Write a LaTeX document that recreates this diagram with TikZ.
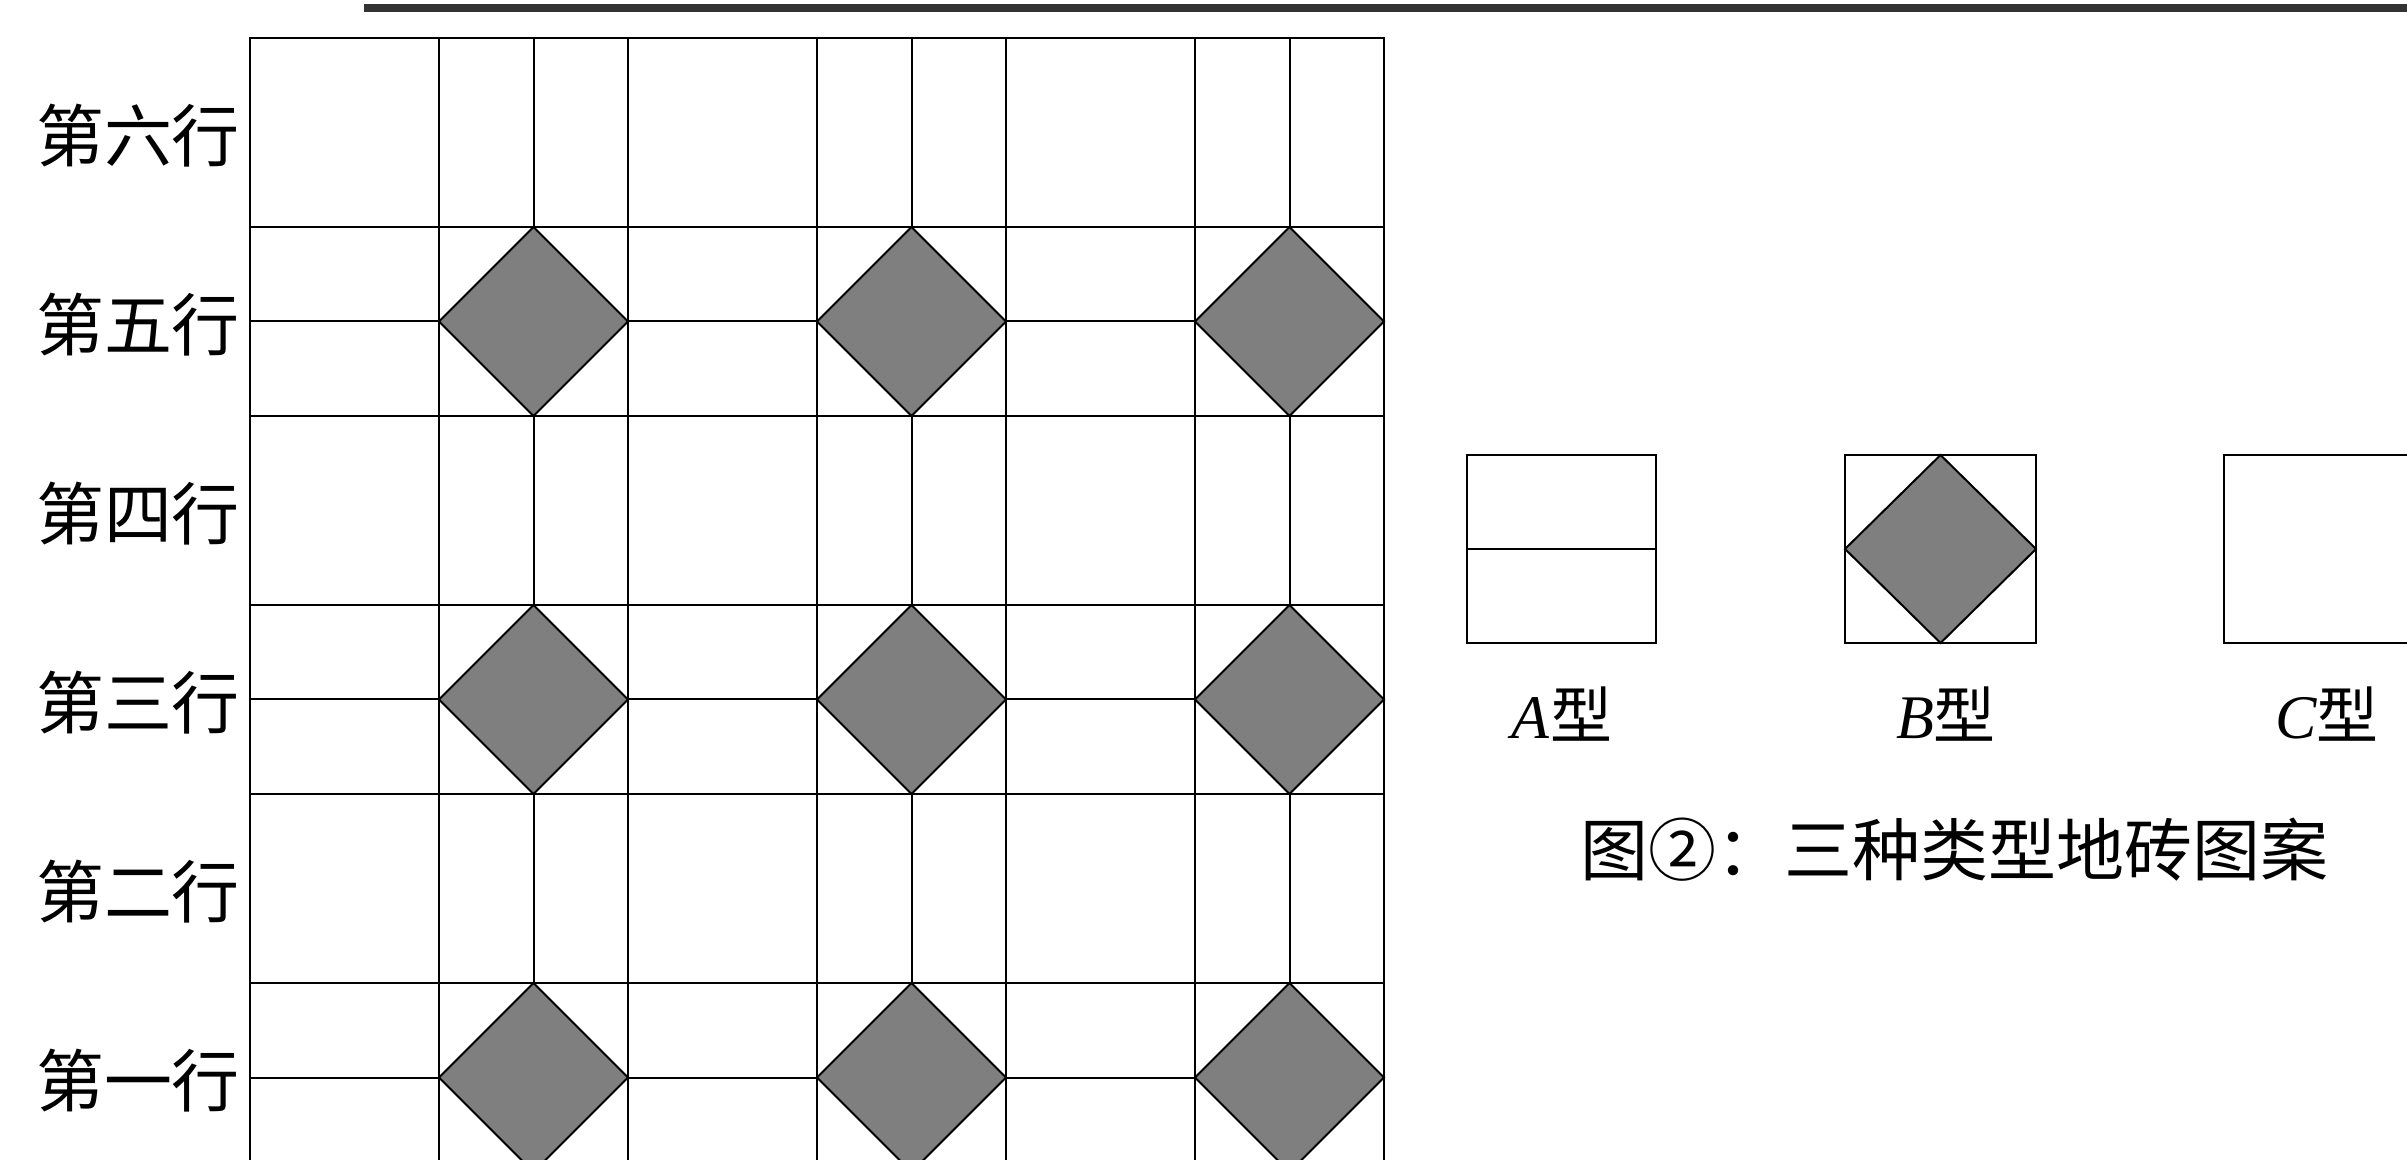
\documentclass[tikz,border=0pt]{standalone}
\usepackage{fontspec}
\setmainfont{Liberation Serif}
\newfontfamily\cjk{Noto Sans CJK SC}
\definecolor{tilegray}{HTML}{7F7F7F}
\definecolor{bargray}{HTML}{333333}
\begin{document}
\begin{tikzpicture}[x=0.3pt,y=-0.3pt,
  tileline/.style={draw=black,line width=0.6pt},
  diamondfill/.style={fill=tilegray,draw=black,line width=0.6pt,line join=miter},
  rowlabel/.style={font=\cjk\fontsize{20.4}{22}\selectfont,inner sep=0pt},
  typelabel/.style={font=\fontsize{18.6}{20}\selectfont,inner sep=0pt},
  caption/.style={font=\cjk\fontsize{20.4}{22}\selectfont,inner sep=0pt}]
\useasboundingbox (0,0) rectangle (2407,1160);
\clip (0,0) rectangle (2407,1160);
\fill[white] (0,0) rectangle (2407,1160);
% top bar
\fill[bargray] (364,4) rectangle (2407,12);
% grid of tiles
\foreach \r in {0,...,5}{
  \foreach \i in {0,...,5}{
    \pgfmathsetmacro{\xa}{250+189*\i}
    \pgfmathsetmacro{\ya}{38+189*\r}
    \pgfmathsetmacro{\xb}{\xa+189}
    \pgfmathsetmacro{\yb}{\ya+189}
    \pgfmathsetmacro{\xm}{\xa+94.5}
    \pgfmathsetmacro{\ym}{\ya+94.5}
    \pgfmathtruncatemacro{\ro}{mod(\r,2)}
    \pgfmathtruncatemacro{\co}{mod(\i,2)}
    \ifnum\ro=1
      \ifnum\co=1
        \filldraw[diamondfill] (\xm,\ya) -- (\xb,\ym) -- (\xm,\yb) -- (\xa,\ym) -- cycle;
      \else
        \draw[tileline] (\xa,\ym) -- (\xb,\ym);
      \fi
    \else
      \ifnum\co=1
        \draw[tileline] (\xm,\ya) -- (\xm,\yb);
      \fi
    \fi
    \draw[tileline] (\xa,\ya) rectangle (\xb,\yb);
  }
}
% row labels
\node[rowlabel] (r6) at (138,136) {第六行};
\node[rowlabel] (r5) at (138,325) {第五行};
\node[rowlabel] (r4) at (138,514) {第四行};
\node[rowlabel] (r3) at (138,703) {第三行};
\node[rowlabel] (r2) at (138,892) {第二行};
\node[rowlabel] (r1) at (138,1081) {第一行};
% type tiles
\draw[tileline] (1467,455) rectangle (1656,643);
\draw[tileline] (1467,549) -- (1656,549);
\draw[tileline] (1845,455) rectangle (2036,643);
\filldraw[diamondfill] (1940.5,455) -- (2036,549) -- (1940.5,643) -- (1845,549) -- cycle;
\draw[tileline] (2224,455) rectangle (2413,643);
% type labels
\node[typelabel,anchor=base] (la) at (1562,739) {\textit{A}{\cjk 型}};
\node[typelabel,anchor=base] (lb) at (1946,739) {\textit{B}{\cjk 型}};
\node[typelabel,anchor=base] (lc) at (2327,739) {\textit{C}{\cjk 型}};
% caption
\node[caption] (cap) at (1954,850) {图②：三种类型地砖图案};
\end{tikzpicture}
\end{document}
